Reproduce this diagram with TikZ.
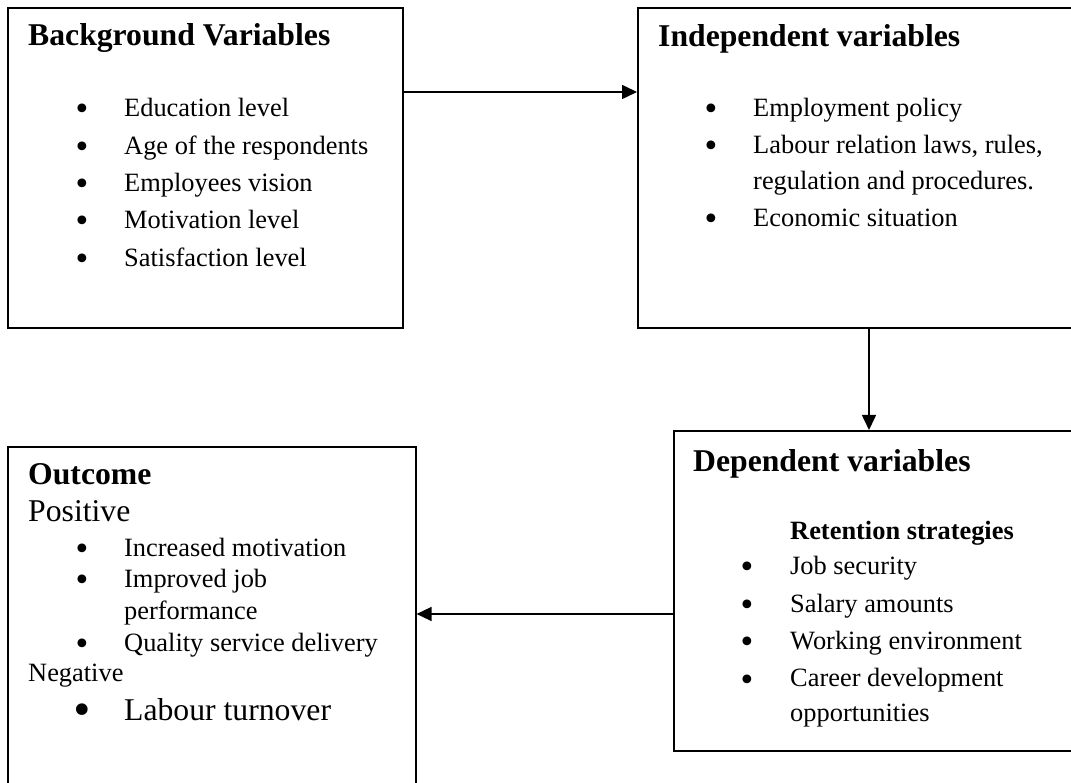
\documentclass[tikz,border=0pt]{standalone}
\usepackage{fontspec}
\setmainfont{Liberation Serif}
\newfontfamily\bulfont{DejaVu Sans}
\usetikzlibrary{arrows.meta}
\tikzset{
  box/.style={draw, line width=1.6pt, rectangle, anchor=north west, inner sep=0pt},
  txt/.style={anchor=base west, inner sep=0pt, font=\fontsize{26.4}{30}\selectfont},
  btxt/.style={anchor=base west, inner sep=0pt, font=\fontsize{26.4}{30}\selectfont\bfseries},
  bigtxt/.style={anchor=base west, inner sep=0pt, font=\fontsize{31.7}{36}\selectfont},
  ttl/.style={anchor=base west, inner sep=0pt, font=\fontsize{31.7}{36}\selectfont\bfseries},
  bul/.style={anchor=base, inner sep=0pt, font=\bulfont\fontsize{30}{30}\selectfont, yshift=-3pt},
  bigbul/.style={anchor=base, inner sep=0pt, font=\bulfont\fontsize{40}{40}\selectfont, yshift=-4pt},
  arr/.style={line width=1.6pt, -{Triangle[length=15pt,width=14pt]}}
}
\begin{document}
\begin{tikzpicture}[x=1pt,y=1pt]
\useasboundingbox (0,0) rectangle (1071,782);
\clip (0,0) rectangle (1071,782);
\fill[white] (0,0) rectangle (1071,782);
% boxes
\node[box, minimum width=395pt, minimum height=320pt] (bg) at (7,775) {};
\node[box, minimum width=448pt, minimum height=320pt] (ind) at (637,775) {};
\node[box, minimum width=412pt, minimum height=320pt] (dep) at (673,352) {};
\node[box, minimum width=408pt, minimum height=360pt] (out) at (7,336) {};
% Background variables
\node[ttl] (bgt) at (28,736) {Background Variables};
\node[bul] (bgb1) at (82,665) {•}; \node[txt] (bg1) at (124,665) {Education level};
\node[bul] (bgb2) at (82,627) {•}; \node[txt] (bg2) at (124,627) {Age of the respondents};
\node[bul] (bgb3) at (82,590) {•}; \node[txt] (bg3) at (124,590) {Employees vision};
\node[bul] (bgb4) at (82,553) {•}; \node[txt] (bg4) at (124,553) {Motivation level};
\node[bul] (bgb5) at (82,515) {•}; \node[txt] (bg5) at (124,515) {Satisfaction level};
% Independent variables
\node[ttl] (indt) at (658,735) {Independent variables};
\node[bul] (indb1) at (711,665) {•}; \node[txt] (ind1) at (753,665) {Employment policy};
\node[bul] (indb2) at (711,628) {•}; \node[txt] (ind2) at (753,628) {Labour relation laws, rules,};
\node[txt] (ind2b) at (753,592) {regulation and procedures.};
\node[bul] (indb3) at (711,555) {•}; \node[txt] (ind3) at (753,555) {Economic situation};
% Dependent variables
\node[ttl] (dept) at (693,310) {Dependent variables};
\node[btxt] (deps) at (790,242) {Retention strategies};
\node[bul] (depb1) at (747,207) {•}; \node[txt] (dep1) at (790,207) {Job security};
\node[bul] (depb2) at (747,169) {•}; \node[txt] (dep2) at (790,169) {Salary amounts};
\node[bul] (depb3) at (747,132) {•}; \node[txt] (dep3) at (790,132) {Working environment};
\node[bul] (depb4) at (747,95) {•}; \node[txt] (dep4) at (790,95) {Career development};
\node[txt] (dep4b) at (790,60) {opportunities};
% Outcome
\node[ttl] (outt) at (28,297) {Outcome};
\node[bigtxt] (pos) at (28,260) {Positive};
\node[bul] (outb1) at (82,225) {•}; \node[txt] (out1) at (124,225) {Increased motivation};
\node[bul] (outb2) at (82,194) {•}; \node[txt] (out2) at (124,194) {Improved job};
\node[txt] (out2b) at (124,162) {performance};
\node[bul] (outb3) at (82,130) {•}; \node[txt] (out3) at (124,130) {Quality service delivery};
\node[txt] (neg) at (28,100) {Negative};
\node[bigbul] (outb4) at (82,62) {•}; \node[bigtxt] (out4) at (124,62) {Labour turnover};
% arrows
\draw[arr] ([yshift=-85pt]bg.north east) -- ([yshift=-85pt]ind.north west);
\draw[arr] ([xshift=232pt]ind.south west) -- ([xshift=196pt]dep.north west);
\draw[arr] ([yshift=-184pt]dep.north west) -- ([yshift=-168pt]out.north east);
\end{tikzpicture}
\end{document}
